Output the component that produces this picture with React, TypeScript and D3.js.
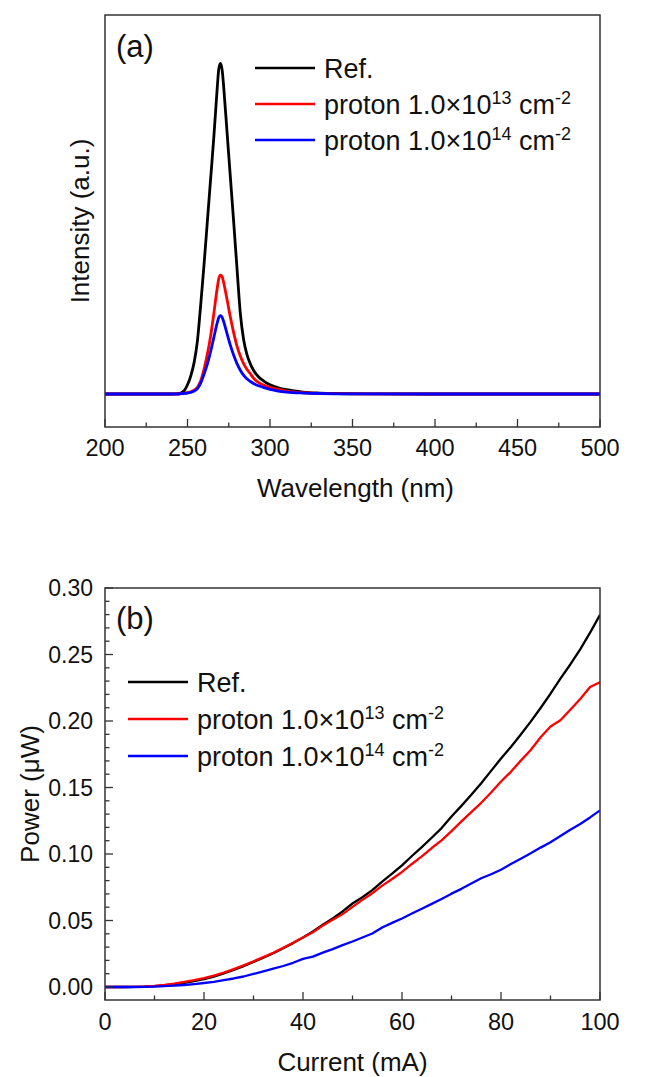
import React from "react";
import * as d3 from "d3";

// ---------- Panel (a): EL spectra ----------
const wavelength = [200, 220, 240, 244, 246, 248, 250, 252, 254, 256, 258, 260, 262, 264, 266, 268, 269, 270, 271, 272, 274, 276, 278, 280, 282, 284, 286, 288, 290, 293, 296, 300, 305, 310, 320, 330, 340, 360, 400, 450, 500];
const specRef = [0, 0, 0, 0.001, 0.003, 0.01, 0.028, 0.055, 0.095, 0.16, 0.27, 0.39, 0.52, 0.65, 0.78, 0.925, 0.985, 1.0, 0.98, 0.925, 0.79, 0.655, 0.52, 0.38, 0.245, 0.165, 0.12, 0.092, 0.072, 0.052, 0.04, 0.028, 0.019, 0.013, 0.006, 0.003, 0.0015, 0.0005, 0, 0, 0];
const spec13 = [0, 0, 0, 0, 0.001, 0.002, 0.004, 0.007, 0.012, 0.02, 0.04, 0.075, 0.12, 0.175, 0.245, 0.32, 0.35, 0.36, 0.355, 0.335, 0.285, 0.232, 0.185, 0.145, 0.115, 0.092, 0.075, 0.062, 0.048, 0.035, 0.027, 0.02, 0.014, 0.009, 0.004, 0.002, 0.001, 0.0003, 0, 0, 0];
const spec14 = [0, 0, 0, 0, 0.001, 0.002, 0.003, 0.005, 0.009, 0.016, 0.033, 0.06, 0.09, 0.128, 0.172, 0.215, 0.232, 0.237, 0.232, 0.218, 0.182, 0.147, 0.117, 0.092, 0.072, 0.057, 0.046, 0.038, 0.032, 0.025, 0.02, 0.014, 0.009, 0.006, 0.003, 0.0015, 0.0007, 0.0002, 0, 0, 0];
const wlTicks = [200, 250, 300, 350, 400, 450, 500];

// ---------- Panel (b): L-I ----------
const current = [0, 2, 4, 6, 8, 10, 12, 14, 16, 18, 20, 22, 24, 26, 28, 30, 32, 34, 36, 38, 40, 42, 44, 46, 48, 50, 52, 54, 56, 58, 60, 62, 64, 66, 68, 70, 72, 74, 76, 78, 80, 82, 84, 86, 88, 90, 92, 94, 96, 98, 100];
const powerRef = [0, 0, 0, 0.0001, 0.0003, 0.0007, 0.0013, 0.0022, 0.0032, 0.0045, 0.006, 0.0078, 0.0102, 0.0128, 0.0157, 0.0188, 0.022, 0.0254, 0.0292, 0.033, 0.0372, 0.0418, 0.0468, 0.0515, 0.0568, 0.0628, 0.0675, 0.0728, 0.0792, 0.0852, 0.0915, 0.0985, 0.1052, 0.1122, 0.1195, 0.1282, 0.1362, 0.1445, 0.1532, 0.1625, 0.1718, 0.1805, 0.1898, 0.1995, 0.2098, 0.2205, 0.2318, 0.2425, 0.2538, 0.2665, 0.2798];
const power13 = [0, 0, 0, 0.0001, 0.0004, 0.0009, 0.0016, 0.0026, 0.0038, 0.0051, 0.0066, 0.0085, 0.0108, 0.0134, 0.0163, 0.0193, 0.0225, 0.0258, 0.0294, 0.0332, 0.0373, 0.0412, 0.0462, 0.0505, 0.0548, 0.0602, 0.0655, 0.0705, 0.0762, 0.0812, 0.0865, 0.0925, 0.0982, 0.1045, 0.1102, 0.1172, 0.1245, 0.1315, 0.1385, 0.1462, 0.1545, 0.1618, 0.1702, 0.1782, 0.1878, 0.1958, 0.2005, 0.2085, 0.2165, 0.2255, 0.2292];
const power14 = [0, 0, 0, 0, 0.0001, 0.0003, 0.0006, 0.001, 0.0015, 0.0022, 0.003, 0.0039, 0.0051, 0.0064, 0.0079, 0.0098, 0.0118, 0.0138, 0.0158, 0.0182, 0.0212, 0.0228, 0.0258, 0.0285, 0.0315, 0.0342, 0.0372, 0.0402, 0.0448, 0.0482, 0.0515, 0.0552, 0.0588, 0.0625, 0.0662, 0.0702, 0.0738, 0.0778, 0.0818, 0.0848, 0.0882, 0.0925, 0.0965, 0.1005, 0.1048, 0.1088, 0.1135, 0.1182, 0.1225, 0.1275, 0.1328];
const curTicks = [0, 20, 40, 60, 80, 100];
const powTicks = [0, 0.05, 0.1, 0.15, 0.2, 0.25, 0.3];

const seriesColors = ["#000000", "#ff0000", "#0000ff"];
const FONT = "'Liberation Sans', Arial, Helvetica, sans-serif";
const FRAME = "#333";

function Legend({ x, y0, dy }: { x: number; y0: number; dy: number }) {
  const rows = [
    { c: seriesColors[0], main: "Ref.", exp: null as string | null },
    { c: seriesColors[1], main: "proton 1.0×10", exp: "13" },
    { c: seriesColors[2], main: "proton 1.0×10", exp: "14" },
  ];
  return (
    <g>
      {rows.map((r, i) => {
        const y = y0 + i * dy;
        return (
          <g key={i}>
            <line x1={x} x2={x + 60} y1={y} y2={y} stroke={r.c} strokeWidth={2.4} />
            <text x={x + 69} y={y + 9.5} fontSize={27} fontFamily={FONT} fill="#111">
              {r.main}
              {r.exp && (
                <>
                  <tspan dy={-10} fontSize={18}>{r.exp}</tspan>
                  <tspan dy={10}> cm</tspan>
                  <tspan dy={-10} fontSize={18}>-2</tspan>
                </>
              )}
            </text>
          </g>
        );
      })}
    </g>
  );
}

export default function App() {
  const L = 105, R = 600;
  // panel a
  const aTop = 15, aBot = 427;
  const xa = d3.scaleLinear().domain([200, 500]).range([L, R]);
  const ya = d3.scaleLinear().domain([-0.0998, 1.1468]).range([aBot, aTop]);
  const lineA = (vals: number[]) =>
    d3.line<number>().x((_, i) => xa(wavelength[i])).y((v) => ya(v)).curve(d3.curveMonotoneX)(vals) || "";
  const aMinor = d3.range(225, 500, 50);

  // panel b
  const bTop = 588, bBot = 1000;
  const xb = d3.scaleLinear().domain([0, 100]).range([L, R]);
  const yb = d3.scaleLinear().domain([-0.00977, 0.3]).range([bBot, bTop]);
  const lineB = (vals: number[]) =>
    d3.line<number>().x((_, i) => xb(current[i])).y((v) => yb(v))(vals) || "";
  const bxMinor = d3.range(10, 100, 20);
  const byMinor = d3.range(0, 31).map((k) => k / 100).filter((v) => Math.round(v * 100) % 5 !== 0);

  return (
    <svg width={650} height={1077} style={{ position: "absolute", left: 0, top: 0, background: "#fff" }}>
      <defs>
        <clipPath id="ca"><rect x={L} y={aTop} width={R - L} height={aBot - aTop} /></clipPath>
        <clipPath id="cb"><rect x={L} y={bTop} width={R - L} height={bBot - bTop} /></clipPath>
      </defs>
      <rect width={650} height={1077} fill="#fff" />

      {/* ---------- Panel a ---------- */}
      <g clipPath="url(#ca)" fill="none" strokeWidth={2.8} strokeLinejoin="round">
        <path d={lineA(specRef)} stroke={seriesColors[0]} />
        <path d={lineA(spec13)} stroke={seriesColors[1]} />
        <path d={lineA(spec14)} stroke={seriesColors[2]} />
      </g>
      <rect x={L} y={aTop} width={R - L} height={aBot - aTop} fill="none" stroke={FRAME} strokeWidth={1.5} />
      {wlTicks.map((t) => (
        <g key={t}>
          <line x1={xa(t)} x2={xa(t)} y1={aBot} y2={aBot - 8} stroke={FRAME} strokeWidth={1.3} />
          <text x={xa(t)} y={456} textAnchor="middle" fontSize={23.5} fontFamily={FONT} fill="#111">{t}</text>
        </g>
      ))}
      {aMinor.map((t) => (
        <line key={t} x1={xa(t)} x2={xa(t)} y1={aBot} y2={aBot - 4.5} stroke={FRAME} strokeWidth={1.3} />
      ))}
      <text x={(L + R) / 2 + 3} y={497} textAnchor="middle" fontSize={26} fontFamily={FONT} fill="#111">Wavelength (nm)</text>
      <text transform={`translate(89,${(aTop + aBot) / 2}) rotate(-90)`} textAnchor="middle" fontSize={26} fontFamily={FONT} fill="#111">Intensity (a.u.)</text>
      <text x={116} y={57} fontSize={31} fontFamily={FONT} fill="#111">(a)</text>
      <Legend x={255} y0={68} dy={36} />

      {/* ---------- Panel b ---------- */}
      <g clipPath="url(#cb)" fill="none" strokeWidth={2.3} strokeLinejoin="round">
        <path d={lineB(powerRef)} stroke={seriesColors[0]} />
        <path d={lineB(power13)} stroke={seriesColors[1]} />
        <path d={lineB(power14)} stroke={seriesColors[2]} />
      </g>
      <rect x={L} y={bTop} width={R - L} height={bBot - bTop} fill="none" stroke={FRAME} strokeWidth={1.5} />
      {curTicks.map((t) => (
        <g key={t}>
          <line x1={xb(t)} x2={xb(t)} y1={bBot} y2={bBot - 8} stroke={FRAME} strokeWidth={1.3} />
          <text x={xb(t)} y={1030} textAnchor="middle" fontSize={23.5} fontFamily={FONT} fill="#111">{t}</text>
        </g>
      ))}
      {bxMinor.map((t) => (
        <line key={t} x1={xb(t)} x2={xb(t)} y1={bBot} y2={bBot - 4.5} stroke={FRAME} strokeWidth={1.3} />
      ))}
      {powTicks.map((t) => (
        <g key={t}>
          <line x1={L} x2={L + 8} y1={yb(t)} y2={yb(t)} stroke={FRAME} strokeWidth={1.3} />
          <text x={93} y={yb(t) + 8} textAnchor="end" fontSize={23} fontFamily={FONT} fill="#111">{d3.format(".2f")(t)}</text>
        </g>
      ))}
      {byMinor.map((t) => (
        <line key={t} x1={L} x2={L + 4.5} y1={yb(t)} y2={yb(t)} stroke={FRAME} strokeWidth={1.3} />
      ))}
      <text x={(L + R) / 2} y={1071} textAnchor="middle" fontSize={26} fontFamily={FONT} fill="#111">Current (mA)</text>
      <text transform={`translate(39,${(bTop + bBot) / 2}) rotate(-90)`} textAnchor="middle" fontSize={26} fontFamily={FONT} fill="#111">Power (μW)</text>
      <text x={116} y={629} fontSize={31} fontFamily={FONT} fill="#111">(b)</text>
      <Legend x={128} y0={682} dy={37} />
    </svg>
  );
}
